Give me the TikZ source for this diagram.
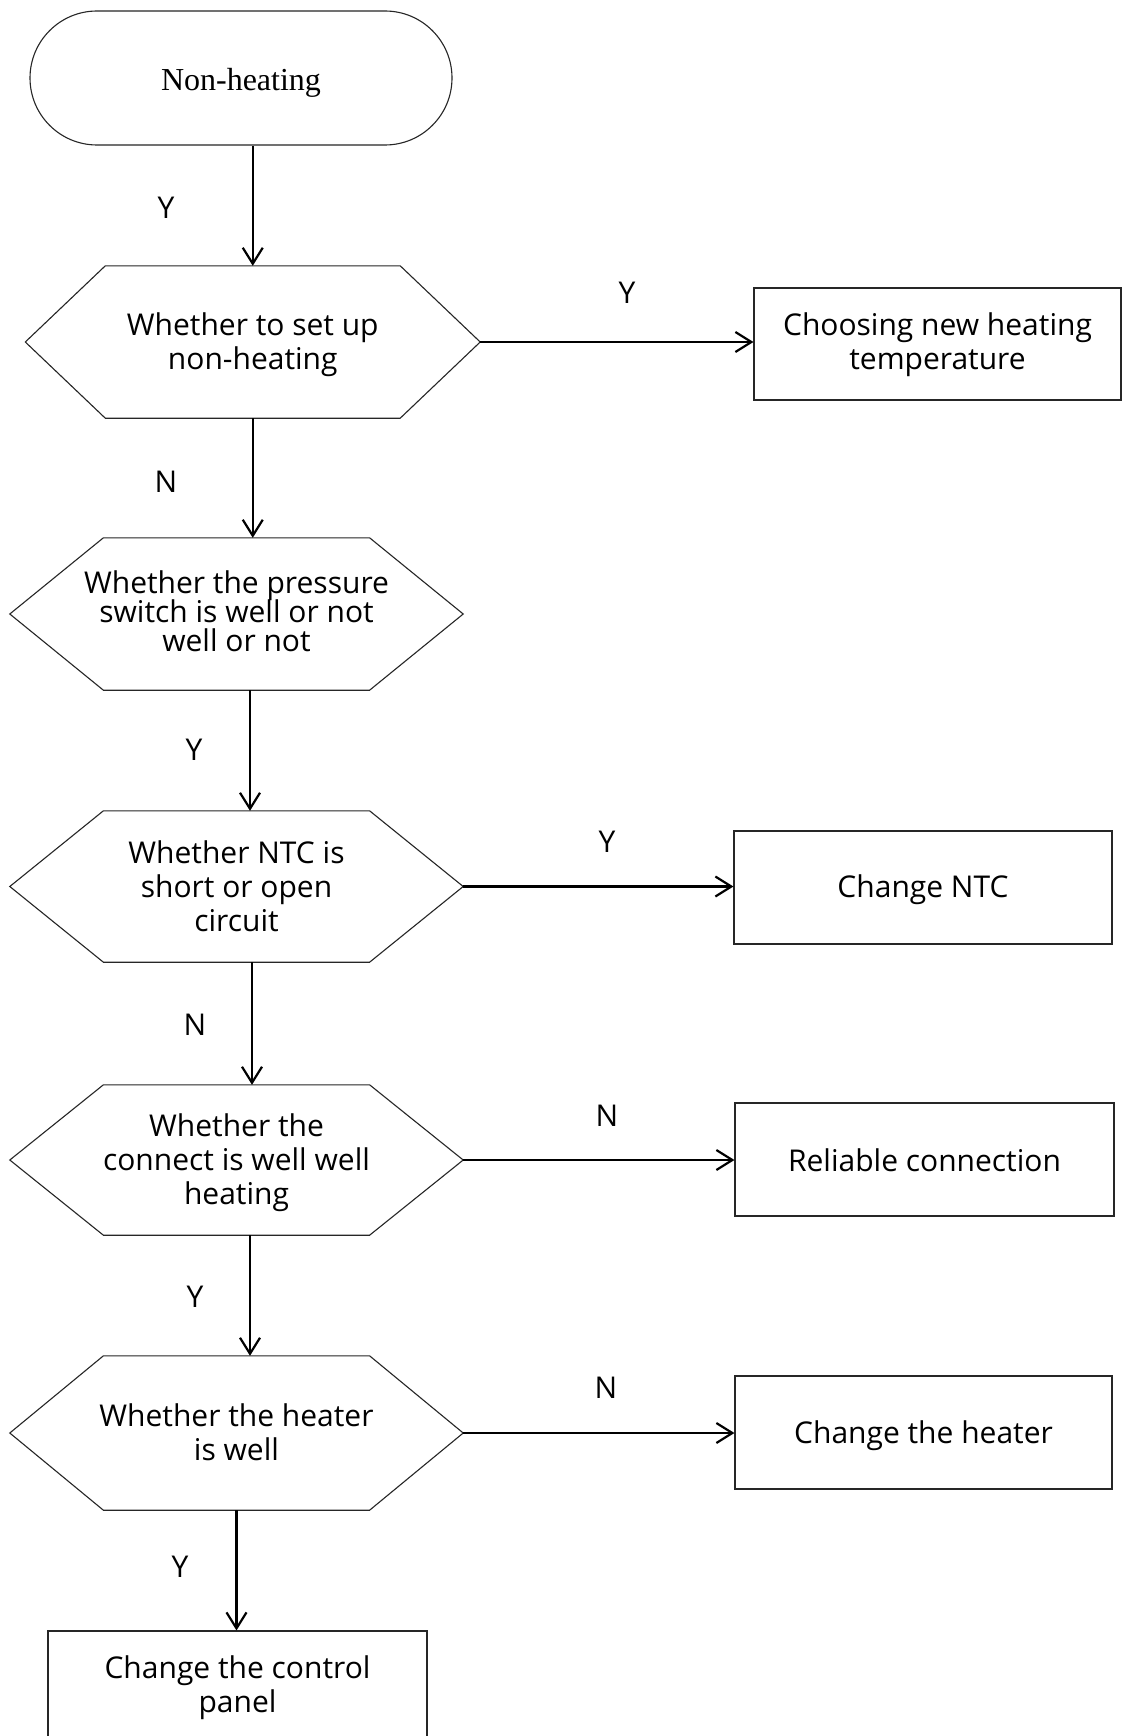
\documentclass[tikz,border=0pt]{standalone}
\usepackage{fontspec}
\setmainfont{Open Sans}
\newfontfamily\termfont{Liberation Serif}
\usetikzlibrary{arrows.meta}
\newcommand\drawhexagon[2]{\draw[shapeline] (#1.west) -- ([xshift=#2]#1.north west) -- ([xshift=-#2]#1.north east) -- (#1.east) -- ([xshift=-#2]#1.south east) -- ([xshift=#2]#1.south west) -- cycle;}
\newcommand\tightlines{\lineskiplimit=-30pt\relax\lineskip=0pt\relax}
\begin{document}
\begin{tikzpicture}[x=1pt,y=-1pt,
  shapeline/.style={draw=black!85, line width=1.1pt},
  txt/.style={font=\fontsize{30}{34}\selectfont, align=center, inner sep=0pt},
  hexbox/.style={txt, minimum width=453pt},
  boxnode/.style={txt, shapeline, rectangle},
  lbl/.style={font=\fontsize{30}{34}\selectfont, inner sep=0pt},
  arr/.style={line width=2.4pt, -{Straight Barb[length=16pt,width=20pt,line width=2.2pt]}}]
\fill[white] (0,0) rectangle (1122,1736);
\useasboundingbox (0,0) rectangle (1122,1736);

% terminal
\node[shapeline, rectangle, rounded corners=67pt, minimum width=422pt, minimum height=134pt,
      inner sep=0pt] (term) at (241,78) {};
\node[inner sep=0pt, font=\termfont\fontsize{32}{36}\selectfont] (termtxt) at (241,83) {Non-heating};

% decisions
\node[hexbox, minimum width=454.5pt, minimum height=152pt] (h1) at (252.75,342) {};
\node[txt] (h1t) at (252.75,345) {Whether to set up\\non-heating};
\drawhexagon{h1}{80pt}
\node[hexbox, minimum height=152pt] (h2) at (236.5,614) {};
\node[txt, font=\fontsize{30}{28.8}\selectfont\tightlines] (h2t) at (236.5,611) {Whether the pressure\\switch is well or not\\well or not};
\drawhexagon{h2}{93.6pt}
\node[hexbox, minimum height=151pt] (h3) at (236.5,886.5) {};
\node[txt] (h3t) at (236.5,886.5) {Whether NTC is\\short or open\\circuit};
\drawhexagon{h3}{93.6pt}
\node[hexbox, minimum height=150pt] (h4) at (236.5,1160) {};
\node[txt] (h4t) at (236.5,1163) {Whether the\\connect is well well\\heating};
\drawhexagon{h4}{93.6pt}
\node[hexbox, minimum height=154pt] (h5) at (236.5,1433) {};
\node[txt] (h5t) at (236.5,1432) {Whether the heater\\is well};
\drawhexagon{h5}{93.6pt}

% process boxes
\node[boxnode, minimum width=367pt, minimum height=112pt] (b1) at (937.5,344) {};
\node[txt] (b1t) at (937.5,345) {Choosing new heating\\temperature};
\node[boxnode, minimum width=378pt, minimum height=113pt] (b2) at (923,887.5) {};
\node[txt] (b2t) at (923,889.5) {Change NTC};
\node[boxnode, minimum width=379pt, minimum height=113pt] (b3) at (924.5,1159.5) {};
\node[txt] (b3t) at (924.5,1160.5) {Reliable connection};
\node[boxnode, minimum width=377pt, minimum height=113pt] (b4) at (923.5,1432.5) {};
\node[txt] (b4t) at (923.5,1435.5) {Change the heater};
\node[boxnode, minimum width=379pt, minimum height=130pt] (b5) at (237.5,1696) {};
\node[txt] (b5t) at (237.5,1688) {Change the control\\panel};

% vertical connectors
\draw[arr] ([xshift=11.75pt]term.south) -- (h1.north);
\draw[arr] (h1.south) -- (h1.south |- h2.north);
\draw[arr] ([xshift=13.5pt]h2.south) -- ([xshift=13.5pt]h3.north);
\draw[arr] ([xshift=15.5pt]h3.south) -- ([xshift=15.5pt]h4.north);
\draw[arr] ([xshift=13.5pt]h4.south) -- ([xshift=13.5pt]h5.north);
\draw[arr] (h5.south) -- (h5.south |- b5.north);

% horizontal connectors
\draw[arr] (h1.east) -- (h1.east -| b1.west);
\draw[arr] (h3.east) -- (h3.east -| b2.west);
\draw[arr] (h4.east) -- (h4.east -| b3.west);
\draw[arr] (h5.east) -- (h5.east -| b4.west);

% labels
\node[lbl] (l1) at (166,208) {Y};
\node[lbl] (l2) at (627,293) {Y};
\node[lbl] (l3) at (166,482) {N};
\node[lbl] (l4) at (194,750) {Y};
\node[lbl] (l5) at (607,842) {Y};
\node[lbl] (l6) at (195,1025) {N};
\node[lbl] (l7) at (607,1116) {N};
\node[lbl] (l8) at (195,1297) {Y};
\node[lbl] (l9) at (606,1388) {N};
\node[lbl] (l10) at (180,1567) {Y};
\end{tikzpicture}
\end{document}
